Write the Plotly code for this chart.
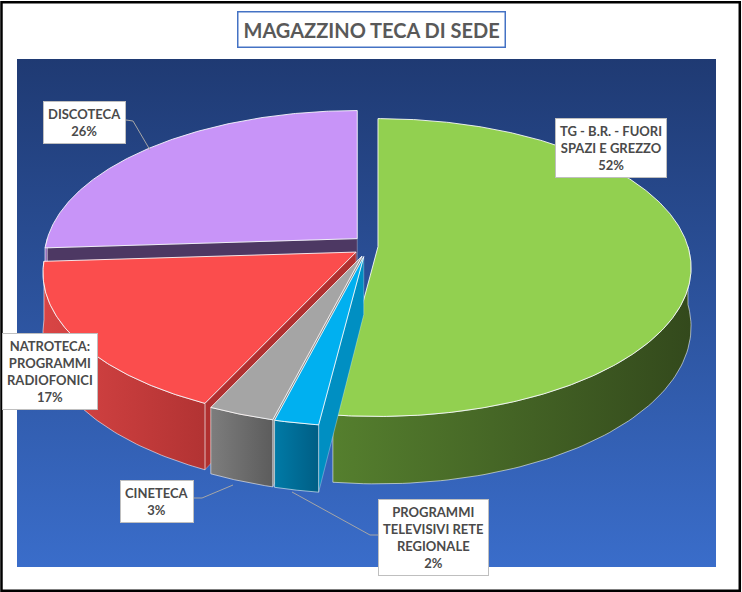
import numpy as np
import plotly.graph_objects as go

# data (clockwise from 12 o'clock)
labels = ["TG - B.R. - FUORI<br>SPAZI E GREZZO",
          "PROGRAMMI<br>TELEVISIVI RETE<br>REGIONALE",
          "CINETECA",
          "NATROTECA:<br>PROGRAMMI<br>RADIOFONICI",
          "DISCOTECA"]
values = [52, 2, 3, 17, 26]

# styling
top_colors = ["#92d050", "#00b0f0", "#a5a5a5", "#fb4d4d", "#c894f8"]
wall_colors = [("#557f2e", "#33491c"), ("#007aa6", "#005e85"), ("#7d7d7d", "#5c5c5c"),
               ("#d94545", "#b23333"), ("#9a6cc6", "#7a52a0")]
face_colors = ["#3c5a20", "#008fc2", "#8a8a8a", "#b03030", "#4d3863"]
label_pos = [(611, 148), (433, 537), (157, 501), (50, 371), (84, 122)]
leaders = {2: ([193, 202, 233], [498, 498, 485]),
           1: ([378, 370, 292], [535, 535, 492]),
           4: ([126, 133, 150], [120, 121, 150])}

# pseudo-3D geometry with a little perspective (pixel space, y down)
cx, cy = 366, 246
rx, ry, depth, explode, persp = 310, 146, 58, 12, 0.14

total = sum(values)
bounds = np.concatenate([[0], np.cumsum(values) / total * 360])

fig = go.Figure()

# plot area background with gradient
fig.add_trace(go.Scatter(
    x=[17, 716, 716, 17, 17], y=[59, 59, 567, 567, 59],
    mode="lines", fill="toself", line=dict(width=0),
    fillgradient=dict(type="vertical", colorscale=[[0, "#1f3a73"], [1, "#3a6dca"]],
                      start=59, stop=567),
    hoverinfo="skip", showlegend=False))


def rim(t, ox, oy):
    r = np.radians(t)
    s = 1 / (1 + persp * np.cos(r))
    return cx + rx * np.sin(r) * s + ox, cy - ry * np.cos(r) * s + oy, depth * s


def poly(xs, ys, color, line_color="rgba(255,255,255,0.85)", lw=1, grad=None):
    kw = dict(fillcolor=color)
    if grad is not None:
        kw = dict(fillgradient=dict(type="horizontal", colorscale=[[0, grad[0]], [1, grad[1]]]))
    fig.add_trace(go.Scatter(x=list(xs) + [xs[0]], y=list(ys) + [ys[0]], mode="lines",
                             fill="toself", line=dict(color=line_color, width=lw),
                             hoverinfo="skip", showlegend=False, **kw))


mids = [(bounds[i] + bounds[i + 1]) / 2 for i in range(len(values))]
order = sorted(range(len(values)), key=lambda i: -np.cos(np.radians(mids[i])))

for i in order:
    ts, te = bounds[i], bounds[i + 1]
    m = np.radians(mids[i])
    ox, oy = explode * np.sin(m), -explode * np.cos(m) * 0.9
    ax, ay = cx + ox, cy + oy

    # cut faces
    for t, vis in ((ts, np.sin(np.radians(ts)) < -1e-6), (te, np.sin(np.radians(te)) > 1e-6)):
        if vis:
            px, py, d = rim(t, ox, oy)
            poly([ax, px, px, ax], [ay, py, py + d, ay + depth], face_colors[i],
                 line_color="rgba(255,255,255,0.5)", lw=0.6)

    # outer front wall
    a, b = max(ts, 90), min(te, 270)
    if b > a:
        tt = np.linspace(a, b, 80)
        xt, yt, d = rim(tt, ox, oy)
        xs = np.concatenate([xt, xt[::-1]])
        ys = np.concatenate([yt, (yt + d)[::-1]])
        poly(xs, ys, wall_colors[i][0], line_color="rgba(255,255,255,0.7)", lw=0.8,
             grad=wall_colors[i])

    # top face
    tt = np.linspace(ts, te, max(int((te - ts) * 2), 8))
    xt, yt, _ = rim(tt, ox, oy)
    poly(np.concatenate([[ax], xt]), np.concatenate([[ay], yt]), top_colors[i])

# leader lines
for i, (lx, ly) in leaders.items():
    fig.add_trace(go.Scatter(x=lx, y=ly, mode="lines", line=dict(color="#a6a6a6", width=1),
                             hoverinfo="skip", showlegend=False))

# data labels
for i, (px, py) in enumerate(label_pos):
    pct = f"{values[i] / total * 100:.0f}%"
    fig.add_annotation(x=px, y=py, text=f"<b>{labels[i]}<br>{pct}</b>", showarrow=False,
                       font=dict(family="Lato, Open Sans, sans-serif", size=13, color="#4a4a4a"),
                       align="center", bgcolor="white", bordercolor="#bfbfbf",
                       borderwidth=1, borderpad=4)

# title
fig.add_annotation(x=371, y=29, text="<b>MAGAZZINO TECA DI SEDE</b>", showarrow=False,
                   font=dict(family="Lato, Open Sans, sans-serif", size=20, color="#595959"),
                   bgcolor="white", bordercolor="#4472c4", borderwidth=1.5, borderpad=5)

fig.add_shape(type="rect", xref="paper", yref="paper", x0=0.002, y0=0.002, x1=0.997, y1=0.996,
              line=dict(color="black", width=2.5))

fig.update_layout(
    width=742, height=592, margin=dict(l=0, r=0, t=0, b=0),
    paper_bgcolor="white", plot_bgcolor="white",
    xaxis=dict(range=[0, 742], visible=False, fixedrange=True),
    yaxis=dict(range=[592, 0], visible=False, fixedrange=True),
)

fig.write_html("out.html", config={"displayModeBar": False},
               post_script="document.body.style.margin='0';")
